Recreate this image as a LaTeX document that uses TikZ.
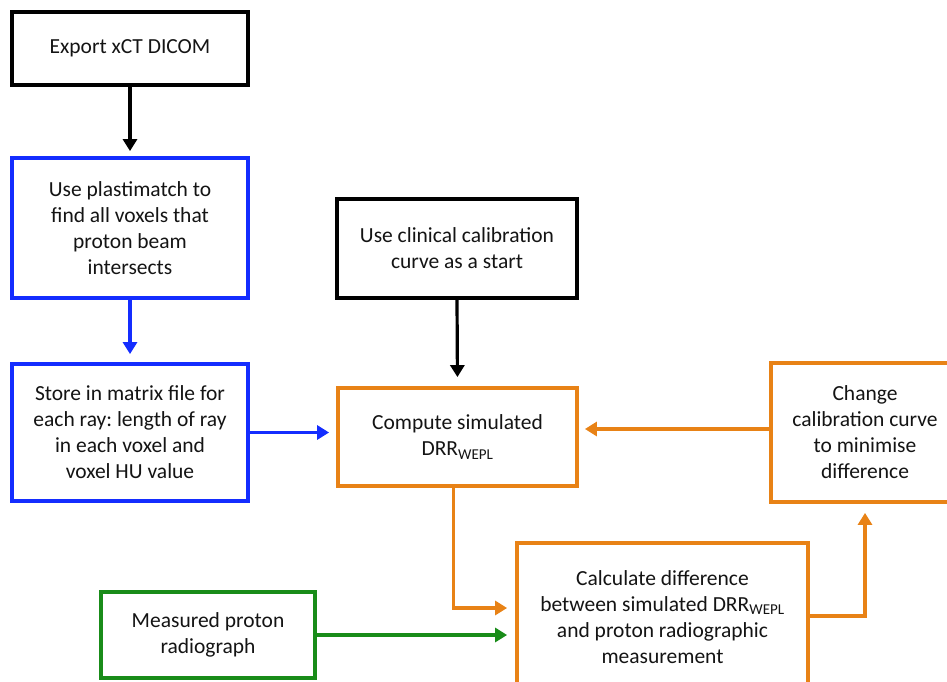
\documentclass[tikz,border=0pt]{standalone}
\usepackage{fontspec}
\setmainfont{Carlito}
\frenchspacing
\usetikzlibrary{arrows.meta,shadows}
\definecolor{cblue}{RGB}{20,45,255}
\definecolor{corange}{RGB}{232,130,22}
\definecolor{cgreen}{RGB}{25,140,25}
\definecolor{ctext}{RGB}{20,20,20}
\begin{document}
\begin{tikzpicture}[x=1pt,y=-1pt,
  box/.style={draw, line width=3.8pt, fill=white, inner sep=0pt, align=center,
    text=ctext, font=\fontsize{21.5}{26}\selectfont,
    drop shadow={shadow xshift=1.5pt, shadow yshift=-1.5pt, opacity=0.25, fill=black}},
  arr/.style={line width=3.2pt, -{Triangle[length=12pt,width=14pt]}},
]
\useasboundingbox (0,0) rectangle (947,682);
\node[box, draw=black, minimum width=236pt, minimum height=73pt] (export) at (130,48.5) {Export xCT DICOM};
\node[box, draw=cblue, minimum width=236pt, minimum height=140pt] (plast) at (130,228) {Use plastimatch to\\find all voxels that\\proton beam\\intersects};
\node[box, draw=cblue, minimum width=236pt, minimum height=137pt] (store) at (130,432.5) {Store in matrix file for\\each ray: length of ray\\in each voxel and\\voxel HU value};
\node[box, draw=black, minimum width=240pt, minimum height=99pt] (clin) at (457,248.5) {Use clinical calibration\\curve as a start};
\node[box, draw=corange, minimum width=239pt, minimum height=98pt] (comp) at (457.5,437) {Compute simulated\\DRR\textsubscript{WEPL}};
\node[box, draw=corange, minimum width=188pt, minimum height=139pt] (change) at (865,432.5) {Change\\calibration curve\\to minimise\\difference};
\node[box, draw=corange, minimum width=291pt, minimum height=148pt] (calc) at (662.5,617) {Calculate difference\\between simulated DRR\textsubscript{WEPL}\\and proton radiographic\\measurement};
\node[box, draw=cgreen, minimum width=214pt, minimum height=86pt] (meas) at (208,635) {Measured proton\\radiograph};

\draw[arr, black, shorten >=5pt] (export.south) -- (plast.north);
\draw[arr, cblue, shorten >=8pt] (plast.south) -- (store.north);
\draw[arr, black, shorten >=9pt] (clin.south) -- (comp.north);
\draw[arr, cblue, shorten >=7pt] (store.east) -- (store.east -| comp.west);
\draw[arr, corange, shorten >=6pt] ([yshift=3.5pt]change.west) -- ([yshift=3.5pt]change.west -| comp.east);
\draw[arr, corange, shorten >=8pt] ([xshift=-4pt]comp.south) |- ([yshift=9pt]calc.west);
\draw[arr, cgreen, shorten >=8pt] (meas.east) -- (meas.east -| calc.west);
\draw[arr, corange, shorten >=9pt] ([yshift=1pt]calc.east) -| (change.south);
\end{tikzpicture}
\end{document}
